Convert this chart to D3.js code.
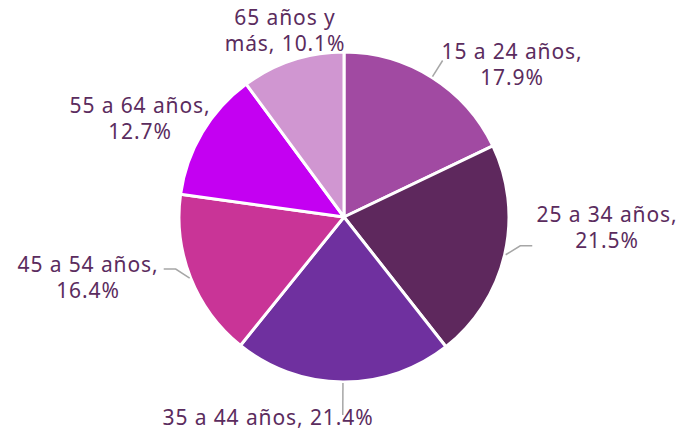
<!DOCTYPE html>
<html>
<head>
<meta charset="utf-8">
<script src="https://cdn.jsdelivr.net/npm/d3@7"></script>
<style>
  body { margin: 0; background: #fff; }
  text { font-family: "Noto Sans", sans-serif; font-size: 21px; letter-spacing: 0.9px; fill: #5b2c5e; }
</style>
</head>
<body>
<svg id="chart" width="686" height="432"></svg>
<script>
// age groups, clockwise from 12 o'clock
var categories = ['15 a 24 años', '25 a 34 años', '35 a 44 años', '45 a 54 años', '55 a 64 años', '65 años y más'];
var values = [17.9, 21.5, 21.4, 16.4, 12.7, 10.1];

var colors = ['#a14aa2', '#5e285d', '#6f309f', '#c93497', '#c400f2', '#d096d1'];

// label lines and first-baseline offsets from pie centre (hand placed like the original)
var labelLines = [
  ['15 a 24 años,', '17.9%'],
  ['25 a 34 años,', '21.5%'],
  ['35 a 44 años, 21.4%'],
  ['45 a 54 años,', '16.4%'],
  ['55 a 64 años,', '12.7%'],
  ['65 años y', 'más, 10.1%']
];
var labelOffsets = [[168, -158], [263, 5], [-76, 208], [-256, 55], [-204, -104], [-59, -192]];

var cx = 344, cy = 217, radius = 165;
var svg = d3.select('#chart');
var g = svg.append('g').attr('transform', 'translate(' + cx + ',' + cy + ')');

var pie = d3.pie().sort(null).value(function(d) { return d; });
var arcs = pie(values);
var arc = d3.arc().innerRadius(0).outerRadius(radius);

g.selectAll('path.slice')
  .data(arcs)
  .enter().append('path')
  .attr('class', 'slice')
  .attr('d', arc)
  .attr('fill', function(d, i) { return colors[i]; })
  .attr('stroke', '#fff')
  .attr('stroke-width', 3)
  .attr('stroke-linejoin', 'round');

// leader lines: radial bit then a short horizontal tail
function polar(a, r) { return [Math.sin(a) * r, -Math.cos(a) * r]; }
var leaders = [
  { i: 0, out: 20, tail: 0 },
  { i: 1, out: 16, tail: 12 },
  { i: 2, out: 33, tail: 0 },
  { i: 3, out: 16, tail: -12 }
];
leaders.forEach(function(l) {
  var a = (arcs[l.i].startAngle + arcs[l.i].endAngle) / 2;
  var p0 = polar(a, radius + 1);
  var p1 = polar(a, radius + l.out);
  if (l.tail) p1[1] = p0[1] - 9;
  var pts = [p0, p1];
  if (l.tail) pts.push([p1[0] + l.tail, p1[1]]);
  g.append('path')
    .attr('d', d3.line()(pts))
    .attr('fill', 'none')
    .attr('stroke', '#a6a6a6')
    .attr('stroke-width', 1.5);
});

var labels = g.selectAll('text.label')
  .data(labelLines)
  .enter().append('text')
  .attr('class', 'label')
  .attr('text-anchor', 'middle')
  .attr('transform', function(d, i) {
    return 'translate(' + labelOffsets[i][0] + ',' + labelOffsets[i][1] + ')';
  });
labels.selectAll('tspan')
  .data(function(d) { return d; })
  .enter().append('tspan')
  .attr('x', 0)
  .attr('dy', function(d, j) { return j === 0 ? 0 : 26; })
  .text(function(d) { return d; });
</script>
</body>
</html>
